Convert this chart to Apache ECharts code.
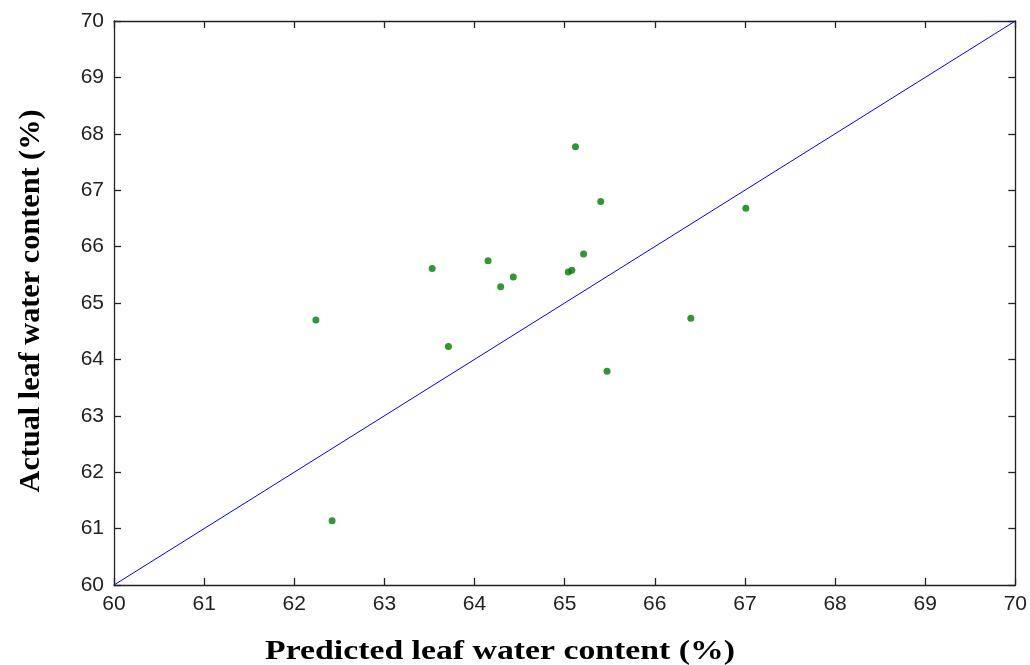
<!DOCTYPE html>
<html>
<head>
<meta charset="utf-8">
<script src="https://cdn.jsdelivr.net/npm/echarts@6/dist/echarts.min.js"></script>
<style>html,body{margin:0;padding:0;background:#fff;}#c{width:1030px;height:665px;}</style>
</head>
<body>
<div id="c"></div>
<script>
const predicted = [62.24, 62.42, 63.53, 63.71, 64.15, 64.29, 64.43, 65.04, 65.08, 65.21, 65.47, 65.12, 65.40, 67.01, 66.40];
const actual    = [64.70, 61.14, 65.61, 64.23, 65.75, 65.29, 65.46, 65.55, 65.58, 65.87, 63.79, 67.77, 66.80, 66.68, 64.73];
const lineX = [60, 70];
const lineY = [60, 70];
const xTitle = 'Predicted leaf water content (%)';
const yTitle = 'Actual leaf water content (%)';

const chart = echarts.init(document.getElementById('c'), null, {renderer: 'canvas'});
const axisLine = {show: true, lineStyle: {color: '#222', width: 1.3}};
const tick = {show: true, inside: true, length: 7, lineStyle: {color: '#222', width: 1.3}};
const lbl = {color: '#222', fontFamily: 'Liberation Sans', fontSize: 21};
chart.setOption({
  animation: false,
  grid: {left: 114, right: 14, top: 21, bottom: 80},
  xAxis: [
    {type: 'value', min: 60, max: 70, interval: 1, position: 'bottom', axisLine, axisTick: tick,
     axisLabel: Object.assign({margin: 9}, lbl), splitLine: {show: false}},
    {type: 'value', min: 60, max: 70, interval: 1, position: 'top', axisLine, axisTick: tick,
     axisLabel: {show: false}, splitLine: {show: false}}
  ],
  yAxis: [
    {type: 'value', min: 60, max: 70, interval: 1, position: 'left', axisLine, axisTick: tick,
     axisLabel: Object.assign({margin: 10}, lbl), splitLine: {show: false}},
    {type: 'value', min: 60, max: 70, interval: 1, position: 'right', axisLine, axisTick: tick,
     axisLabel: {show: false}, splitLine: {show: false}}
  ],
  graphic: [
    {type: 'text', x: 500, y: 652, scaleX: 1.25,
      style: {text: xTitle, x: 0, y: 0, align: 'center', verticalAlign: 'middle',
      font: 'bold 27px "Liberation Serif"', fill: '#000'}},
    {type: 'text', x: 31, y: 301, rotation: Math.PI / 2, scaleX: 1.12, scaleY: 1.1,
      style: {text: yTitle, x: 0, y: 0, align: 'center', verticalAlign: 'middle',
      font: 'bold 27px "Liberation Serif"', fill: '#000'}}
  ],
  series: [
    {type: 'line', data: lineX.map((x, i) => [x, lineY[i]]), symbol: 'none',
     lineStyle: {color: '#0000ff', width: 1}, silent: true},
    {type: 'scatter', data: predicted.map((x, i) => [x, actual[i]]), symbol: 'circle', symbolSize: 7,
     itemStyle: {color: '#007a00'}}
  ]
});
</script>
</body>
</html>
